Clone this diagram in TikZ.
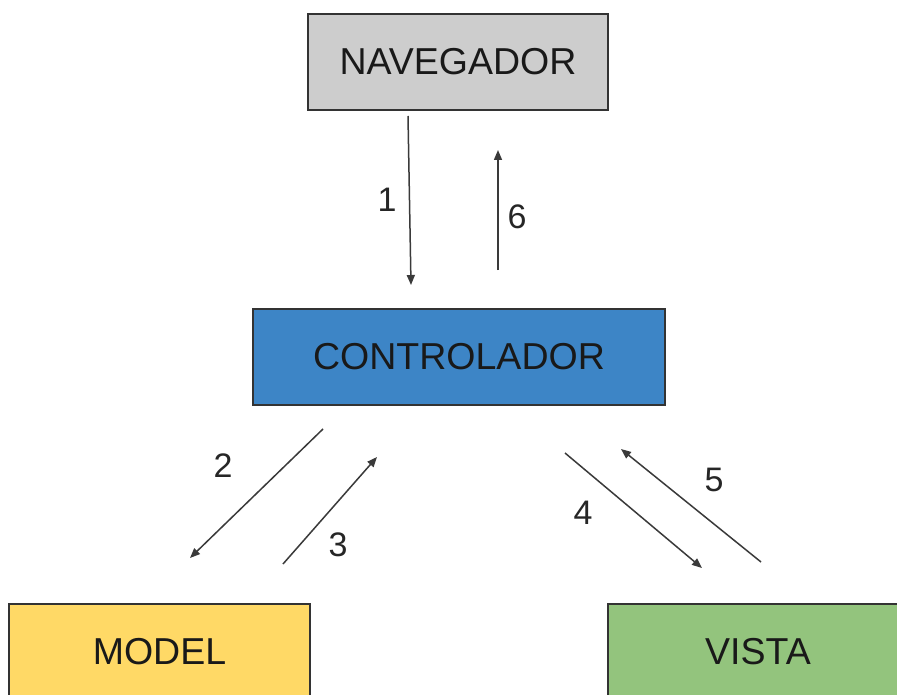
\documentclass[tikz,border=0pt]{standalone}
\usepackage{fontspec}
\setmainfont{Liberation Sans}
\usetikzlibrary{arrows.meta}
\definecolor{navfill}{HTML}{CDCDCD}
\definecolor{ctrlfill}{HTML}{3D85C6}
\definecolor{modfill}{HTML}{FFD966}
\definecolor{visfill}{HTML}{93C47D}
\definecolor{edge}{HTML}{333333}
\definecolor{arrowc}{HTML}{3A3A3A}
\tikzset{
  box/.style={draw=edge, line width=1.6pt, minimum height=96pt, inner sep=0pt,
    font=\fontsize{37.5}{40}\selectfont, text=black!90},
  flow/.style={draw=arrowc, line width=1.5pt, -{Triangle[length=10pt,width=8pt]}},
  num/.style={font=\fontsize{34}{36}\selectfont, text=black!85, inner sep=0pt}
}
\begin{document}
\begin{tikzpicture}[x=1pt,y=-1pt]
\clip (0,0) rectangle (897,695);
\fill[white] (0,0) rectangle (897,695);
\node[box, fill=navfill, minimum width=300pt] (nav) at (458,62) {NAVEGADOR};
\node[box, fill=ctrlfill, minimum width=412pt] (ctrl) at (459,357) {CONTROLADOR};
\node[box, fill=modfill, minimum width=301pt] (model) at (159.5,652) {MODEL};
\node[box, fill=visfill, minimum width=300pt] (vista) at (758,652) {VISTA};
% arrow endpoints
\coordinate (a1s) at (408,116);
\coordinate (a1e) at (411,285);
\coordinate (a6s) at (498,270);
\coordinate (a6e) at (498,150);
\coordinate (a2s) at (323,429);
\coordinate (a2e) at (190,558);
\coordinate (a3s) at (283,564);
\coordinate (a3e) at (377,457);
\coordinate (a4s) at (565,453);
\coordinate (a4e) at (702,568);
\coordinate (a5s) at (761,562);
\coordinate (a5e) at (621,449);
\draw[flow] (a1s) -- (a1e);
\draw[flow] (a6s) -- (a6e);
\draw[flow] (a2s) -- (a2e);
\draw[flow] (a3s) -- (a3e);
\draw[flow] (a4s) -- (a4e);
\draw[flow] (a5s) -- (a5e);
\node[num] (l1) at (387,200) {1};
\node[num] (l6) at (517,217) {6};
\node[num] (l2) at (223,466) {2};
\node[num] (l3) at (338,545) {3};
\node[num] (l4) at (583,513) {4};
\node[num] (l5) at (714,480) {5};
\end{tikzpicture}
\end{document}
